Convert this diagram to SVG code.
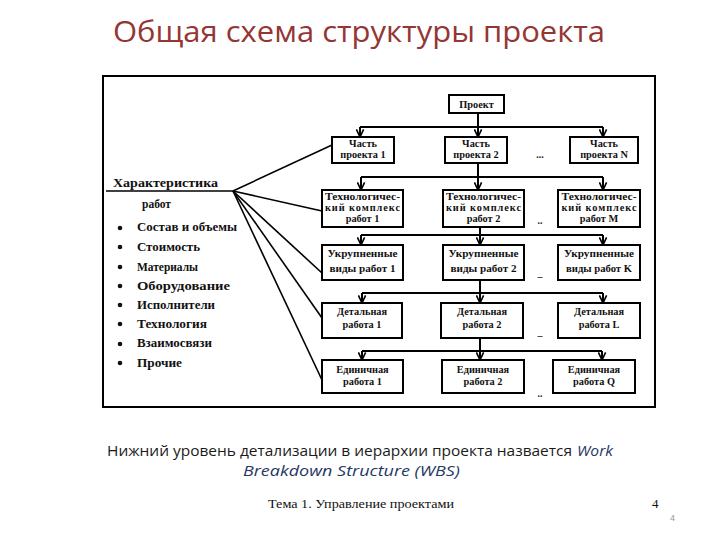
<svg xmlns="http://www.w3.org/2000/svg" width="720" height="540" viewBox="0 0 720 540">
<defs>
<marker id="ah" viewBox="0 0 10 10" refX="9.5" refY="5" markerWidth="9" markerHeight="9" markerUnits="userSpaceOnUse" orient="auto">
<path d="M1,1 L9.5,5 L1,9" fill="none" stroke="#000" stroke-width="1.8"/>
</marker>
</defs>
<style>
.box{fill:#fff;stroke:#000;stroke-width:2}
.bt{font-family:"Liberation Serif","DejaVu Serif",serif;font-weight:bold;font-size:10.3px;fill:#111;text-anchor:middle}
.lt{font-family:"Liberation Serif","DejaVu Serif",serif;font-weight:bold;font-size:11.5px;fill:#111}
.ln{stroke:#000;stroke-width:2;fill:none}
.ar{stroke:#000;stroke-width:2;fill:none;marker-end:url(#ah)}
.hub{stroke:#000;stroke-width:1.6;fill:none}
.dots{font-family:"Liberation Serif",serif;font-weight:bold;font-size:10px;fill:#222;text-anchor:middle}
</style>
<rect width="720" height="540" fill="#fff"/>
<text x="113" y="42" font-family="'Open Sans','Liberation Sans',sans-serif" font-size="29" fill="#943634" textLength="492" lengthAdjust="spacingAndGlyphs">Общая схема структуры проекта</text>
<rect x="103" y="76" width="552" height="331" fill="none" stroke="#000" stroke-width="2"/>

<g id="connectors">
<path class="ar" d="M478,113 V137"/>
<path class="ln" d="M360,127 H603"/>
<path class="ar" d="M360,127 V137"/>
<path class="ar" d="M603,127 V137"/>
<path class="ar" d="M478,163 V190"/>
<path class="ln" d="M361,177 H603"/>
<path class="ar" d="M361,177 V190"/>
<path class="ar" d="M603,177 V190"/>
<path class="ar" d="M480,227 V245"/>
<path class="ln" d="M361,235 H603"/>
<path class="ar" d="M361,235 V245"/>
<path class="ar" d="M603,235 V245"/>
<path class="ar" d="M480,280 V303"/>
<path class="ln" d="M362,293 H603"/>
<path class="ar" d="M362,293 V303"/>
<path class="ar" d="M603,293 V303"/>
<path class="ar" d="M480,338 V360"/>
<path class="ln" d="M362,351 H602"/>
<path class="ar" d="M362,351 V360"/>
<path class="ar" d="M602,351 V360"/>
<path class="hub" d="M106,191 H233"/>
<path class="hub" d="M233,191 L332,145"/>
<path class="hub" d="M233,191 L322,211"/>
<path class="hub" d="M233,191 L322,273"/>
<path class="hub" d="M233,191 L322,318"/>
<path class="hub" d="M233,191 L322,380"/>
</g>

<g id="n-project"><rect class="box" x="449" y="95" width="55" height="18"/><text class="bt" x="476.5" y="108" font-size="11">Проект</text></g>

<g id="n-part1"><rect class="box" x="332" y="137" width="62" height="26"/><text class="bt" x="363" y="147">Часть</text><text class="bt" x="363" y="158">проекта 1</text></g>
<g id="n-part2"><rect class="box" x="445" y="137" width="62" height="26"/><text class="bt" x="476" y="147">Часть</text><text class="bt" x="476" y="158">проекта 2</text></g>
<g id="n-partN"><rect class="box" x="570" y="137" width="68" height="26"/><text class="bt" x="604" y="147">Часть</text><text class="bt" x="604" y="158">проекта N</text></g>
<text class="dots" x="540" y="158">...</text>

<g id="n-tech1"><rect class="box" x="322" y="190" width="81" height="37"/><text class="bt" x="362.5" y="200" textLength="75" lengthAdjust="spacingAndGlyphs">Технологичес-</text><text class="bt" x="362.5" y="211" textLength="75" lengthAdjust="spacing">кий комплекс</text><text class="bt" x="362.5" y="222">работ 1</text></g>
<g id="n-tech2"><rect class="box" x="443" y="190" width="81" height="37"/><text class="bt" x="483.5" y="200" textLength="75" lengthAdjust="spacingAndGlyphs">Технологичес-</text><text class="bt" x="483.5" y="211" textLength="75" lengthAdjust="spacing">кий комплекс</text><text class="bt" x="483.5" y="222">работ 2</text></g>
<g id="n-techM"><rect class="box" x="558" y="190" width="82" height="37"/><text class="bt" x="599" y="200" textLength="75" lengthAdjust="spacingAndGlyphs">Технологичес-</text><text class="bt" x="599" y="211" textLength="75" lengthAdjust="spacing">кий комплекс</text><text class="bt" x="599" y="222">работ M</text></g>
<text class="dots" x="540" y="224">..</text>

<g id="n-ukr1"><rect class="box" x="322" y="245" width="81" height="35"/><text class="bt" x="362.5" y="257" textLength="70" lengthAdjust="spacingAndGlyphs">Укрупненные</text><text class="bt" x="362.5" y="272" textLength="66" lengthAdjust="spacingAndGlyphs">виды работ 1</text></g>
<g id="n-ukr2"><rect class="box" x="443" y="245" width="81" height="35"/><text class="bt" x="483.5" y="257" textLength="70" lengthAdjust="spacingAndGlyphs">Укрупненные</text><text class="bt" x="483.5" y="272" textLength="66" lengthAdjust="spacingAndGlyphs">виды работ 2</text></g>
<g id="n-ukrK"><rect class="box" x="558" y="245" width="82" height="35"/><text class="bt" x="599" y="257" textLength="70" lengthAdjust="spacingAndGlyphs">Укрупненные</text><text class="bt" x="599" y="272" textLength="66" lengthAdjust="spacingAndGlyphs">виды работ K</text></g>
<text class="dots" x="540" y="280">–</text>

<g id="n-det1"><rect class="box" x="322" y="303" width="80" height="35"/><text class="bt" x="362" y="315">Детальная</text><text class="bt" x="362" y="328">работа 1</text></g>
<g id="n-det2"><rect class="box" x="441" y="303" width="82" height="35"/><text class="bt" x="482" y="315">Детальная</text><text class="bt" x="482" y="328">работа 2</text></g>
<g id="n-detL"><rect class="box" x="558" y="303" width="82" height="35"/><text class="bt" x="599" y="315">Детальная</text><text class="bt" x="599" y="328">работа L</text></g>
<text class="dots" x="540" y="339">–</text>

<g id="n-ed1"><rect class="box" x="322" y="360" width="81" height="33"/><text class="bt" x="362.5" y="373">Единичная</text><text class="bt" x="362.5" y="385">работа 1</text></g>
<g id="n-ed2"><rect class="box" x="442" y="360" width="82" height="33"/><text class="bt" x="483" y="373">Единичная</text><text class="bt" x="483" y="385">работа 2</text></g>
<g id="n-edQ"><rect class="box" x="553" y="360" width="82" height="33"/><text class="bt" x="594" y="373">Единичная</text><text class="bt" x="594" y="385">работа Q</text></g>
<text class="dots" x="540" y="397">..</text>

<g id="n-characteristics">
<text class="lt" x="113" y="187" textLength="105" lengthAdjust="spacingAndGlyphs">Характеристика</text>
<text class="lt" x="142" y="208">работ</text>
<g fill="#111">
<circle cx="120" cy="228" r="2.3"/><circle cx="120" cy="247" r="2.3"/><circle cx="120" cy="267" r="2.3"/><circle cx="120" cy="286" r="2.3"/>
<circle cx="120" cy="305" r="2.3"/><circle cx="120" cy="324" r="2.3"/><circle cx="120" cy="344" r="2.3"/><circle cx="120" cy="363" r="2.3"/>
</g>
<text class="lt" x="137" y="231" textLength="100" lengthAdjust="spacingAndGlyphs">Состав и объемы</text>
<text class="lt" x="137" y="251" textLength="63" lengthAdjust="spacingAndGlyphs">Стоимость</text>
<text class="lt" x="137" y="271" textLength="61" lengthAdjust="spacingAndGlyphs">Материалы</text>
<text class="lt" x="137" y="290" textLength="93" lengthAdjust="spacingAndGlyphs">Оборудование</text>
<text class="lt" x="137" y="309" textLength="78" lengthAdjust="spacingAndGlyphs">Исполнители</text>
<text class="lt" x="137" y="328" textLength="70" lengthAdjust="spacingAndGlyphs">Технология</text>
<text class="lt" x="137" y="347" textLength="75" lengthAdjust="spacingAndGlyphs">Взаимосвязи</text>
<text class="lt" x="137" y="367" textLength="45" lengthAdjust="spacingAndGlyphs">Прочие</text>
</g>

<text x="107" y="456" font-family="'Open Sans','Liberation Sans',sans-serif" font-size="14" fill="#1a1a1a" textLength="465" lengthAdjust="spacingAndGlyphs">Нижний уровень детализации в иерархии проекта назвается</text>
<text x="577" y="456" font-family="'Open Sans','Liberation Sans',sans-serif" font-size="14" font-style="italic" fill="#1F3864" textLength="36" lengthAdjust="spacingAndGlyphs">Work</text>
<text x="243" y="476" font-family="'Open Sans','Liberation Sans',sans-serif" font-size="14" font-style="italic" fill="#1F3864" textLength="217" lengthAdjust="spacingAndGlyphs">Breakdown Structure (WBS)</text>
<text x="268" y="508" font-family="'Liberation Serif',serif" font-size="12.5" fill="#111" textLength="186" lengthAdjust="spacingAndGlyphs">Тема 1. Управление проектами</text>
<text x="652" y="508" font-family="'Liberation Serif',serif" font-size="13" fill="#111">4</text>
<text x="670" y="521" font-family="'Liberation Sans',sans-serif" font-size="9" fill="#999">4</text>
</svg>
